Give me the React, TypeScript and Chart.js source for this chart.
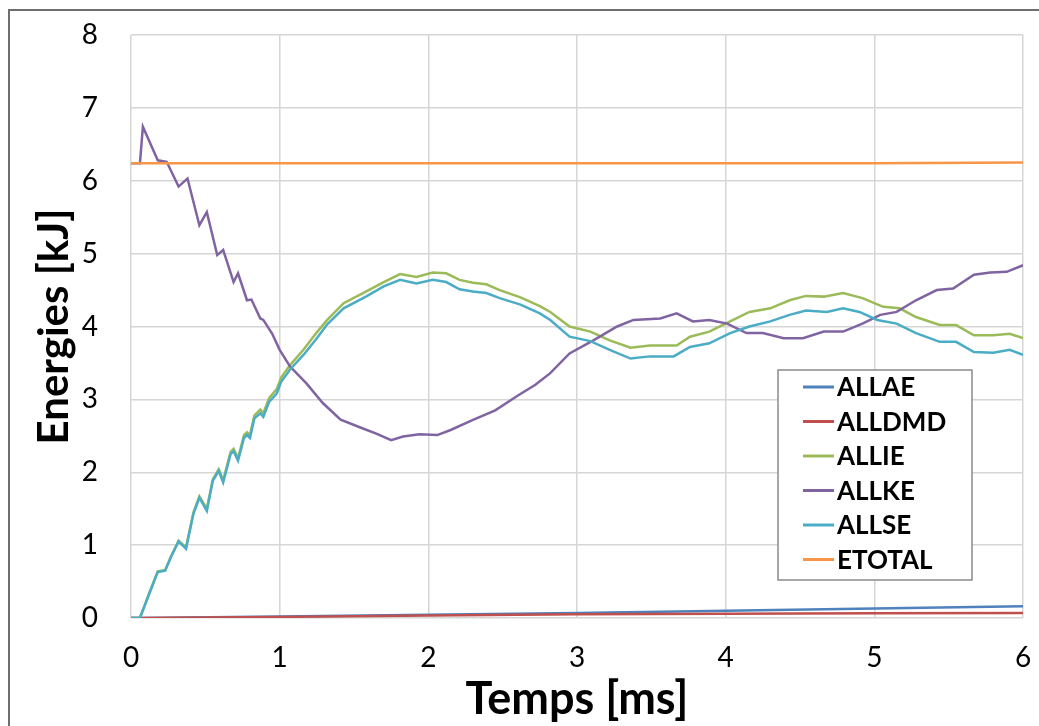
import React, { useEffect, useRef } from "react";
import { Chart, registerables } from "chart.js";

Chart.register(...registerables);

const FONT = "Lato, 'Open Sans', sans-serif";

const seriesNames = ["ALLAE", "ALLDMD", "ALLIE", "ALLKE", "ALLSE", "ETOTAL"];
const seriesColors = ["#4F81BD", "#C0504D", "#9BBB59", "#8064A2", "#4BACC6", "#F79646"];

const xTickValues = [0, 1, 2, 3, 4, 5, 6];
const yTickValues = [0, 1, 2, 3, 4, 5, 6, 7, 8];

const aeT = [0, 0.06, 1, 2, 3, 4, 5, 6];
const aeV = [0, 0, 0.02, 0.045, 0.07, 0.1, 0.13, 0.16];

const dmdT = [0, 0.06, 1, 2, 3, 4, 5, 6];
const dmdV = [0, 0, 0.015, 0.035, 0.05, 0.06, 0.065, 0.07];

const ieT = [0, 0.06, 0.13, 0.18, 0.23, 0.27, 0.32, 0.37, 0.42, 0.46, 0.51, 0.55, 0.59, 0.62, 0.67, 0.69, 0.72, 0.76, 0.78, 0.8, 0.83, 0.87, 0.89, 0.93, 0.98, 1.01, 1.07, 1.16, 1.25, 1.32, 1.43, 1.58, 1.7, 1.81, 1.92, 2.03, 2.12, 2.21, 2.3, 2.39, 2.48, 2.62, 2.75, 2.82, 2.95, 3.09, 3.22, 3.36, 3.49, 3.67, 3.76, 3.89, 4.03, 4.16, 4.3, 4.43, 4.54, 4.66, 4.79, 4.92, 5.06, 5.17, 5.28, 5.44, 5.55, 5.67, 5.8, 5.91, 6.0];
const ieV = [0, 0, 0.38, 0.64, 0.66, 0.85, 1.06, 0.97, 1.45, 1.67, 1.5, 1.9, 2.04, 1.89, 2.28, 2.32, 2.19, 2.51, 2.55, 2.51, 2.78, 2.86, 2.81, 3.02, 3.14, 3.3, 3.47, 3.68, 3.92, 4.09, 4.32, 4.48, 4.61, 4.72, 4.68, 4.74, 4.73, 4.64, 4.6, 4.58, 4.5, 4.4, 4.28, 4.2, 4.0, 3.93, 3.81, 3.71, 3.74, 3.74, 3.86, 3.93, 4.07, 4.2, 4.25, 4.36, 4.42, 4.41, 4.46, 4.39, 4.27, 4.25, 4.13, 4.02, 4.02, 3.88, 3.88, 3.9, 3.84];

const keT = [0, 0.06, 0.08, 0.18, 0.24, 0.32, 0.38, 0.46, 0.51, 0.58, 0.62, 0.69, 0.72, 0.78, 0.81, 0.87, 0.89, 0.95, 1.0, 1.07, 1.18, 1.29, 1.41, 1.56, 1.65, 1.75, 1.83, 1.94, 2.06, 2.15, 2.3, 2.45, 2.6, 2.72, 2.82, 2.95, 3.11, 3.27, 3.38, 3.56, 3.67, 3.78, 3.89, 4.01, 4.14, 4.25, 4.39, 4.52, 4.66, 4.79, 4.92, 5.04, 5.15, 5.28, 5.42, 5.53, 5.67, 5.78, 5.89, 6.0];
const keV = [6.24, 6.24, 6.74, 6.28, 6.26, 5.92, 6.03, 5.39, 5.57, 4.98, 5.05, 4.61, 4.73, 4.36, 4.37, 4.11, 4.09, 3.9, 3.68, 3.45, 3.22, 2.95, 2.72, 2.6, 2.53, 2.44, 2.49, 2.52, 2.51, 2.58, 2.72, 2.85, 3.05, 3.2, 3.36, 3.63, 3.81, 4.0, 4.09, 4.11, 4.18, 4.07, 4.09, 4.04, 3.91, 3.91, 3.84, 3.84, 3.93, 3.93, 4.04, 4.16, 4.2, 4.36, 4.5, 4.52, 4.71, 4.74, 4.75, 4.84];

const seT = [0, 0.06, 0.13, 0.18, 0.23, 0.27, 0.32, 0.37, 0.42, 0.46, 0.51, 0.55, 0.59, 0.62, 0.67, 0.69, 0.72, 0.76, 0.78, 0.8, 0.83, 0.87, 0.89, 0.93, 0.98, 1.01, 1.07, 1.16, 1.25, 1.32, 1.43, 1.58, 1.7, 1.81, 1.92, 2.03, 2.12, 2.21, 2.3, 2.39, 2.48, 2.62, 2.75, 2.82, 2.95, 3.09, 3.22, 3.36, 3.49, 3.65, 3.76, 3.89, 4.03, 4.16, 4.3, 4.43, 4.54, 4.68, 4.79, 4.9, 5.02, 5.15, 5.28, 5.44, 5.55, 5.67, 5.8, 5.91, 6.0];
const seV = [0, 0, 0.37, 0.63, 0.65, 0.84, 1.05, 0.95, 1.43, 1.65, 1.47, 1.88, 2.02, 1.86, 2.25, 2.29, 2.16, 2.47, 2.51, 2.47, 2.74, 2.81, 2.76, 2.97, 3.08, 3.24, 3.41, 3.61, 3.84, 4.03, 4.25, 4.41, 4.55, 4.64, 4.59, 4.64, 4.61, 4.51, 4.48, 4.46, 4.39, 4.3, 4.18, 4.09, 3.86, 3.8, 3.68, 3.56, 3.59, 3.59, 3.72, 3.77, 3.91, 4.0, 4.07, 4.16, 4.22, 4.2, 4.25, 4.2, 4.09, 4.04, 3.91, 3.79, 3.79, 3.65, 3.64, 3.68, 3.61];

const etT = [0, 1, 2, 3, 4, 5, 6];
const etV = [6.24, 6.24, 6.24, 6.24, 6.24, 6.24, 6.25];

const seriesT = [aeT, dmdT, ieT, keT, seT, etT];
const seriesV = [aeV, dmdV, ieV, keV, seV, etV];

const legendPlugin = {
  id: "boxLegend",
  afterDraw(chart: any) {
    const ctx = chart.ctx;
    const x0 = 778, y0 = 370, w = 194, h = 210;
    ctx.save();
    ctx.fillStyle = "#ffffff";
    ctx.fillRect(x0, y0, w, h);
    ctx.strokeStyle = "#8a8a8a";
    ctx.lineWidth = 1.5;
    ctx.strokeRect(x0, y0, w, h);
    ctx.font = `bold 26px ${FONT}`;
    ctx.textBaseline = "middle";
    ctx.textAlign = "left";
    chart.data.datasets.forEach((ds: any, i: number) => {
      const y = 387 + i * 34.5;
      ctx.strokeStyle = ds.borderColor;
      ctx.lineWidth = 3;
      ctx.beginPath();
      ctx.moveTo(803, y);
      ctx.lineTo(834, y);
      ctx.stroke();
      ctx.fillStyle = "#000";
      ctx.fillText(ds.label, 837, y + 1);
    });
    ctx.restore();
  },
};

export default function App() {
  const ref = useRef<HTMLCanvasElement | null>(null);
  useEffect(() => {
    if (!ref.current) return;
    const datasets = seriesNames.map((name, i) => ({
      label: name,
      data: seriesT[i].map((t, j) => ({ x: t, y: seriesV[i][j] })),
      borderColor: seriesColors[i],
      backgroundColor: seriesColors[i],
      borderWidth: 2.5,
      pointRadius: 0,
      tension: 0,
      fill: false,
      order: seriesNames.length - i,
    }));
    const chart = new Chart(ref.current, {
      type: "line",
      data: { datasets },
      options: {
        responsive: false,
        animation: false,
        layout: { padding: { left: 0, right: 16, top: 35, bottom: 0 } },
        plugins: { legend: { display: false }, tooltip: { enabled: false } },
        scales: {
          x: {
            type: "linear",
            min: 0,
            max: 6,
            afterBuildTicks: (s: any) => {
              s.ticks = xTickValues.map((v) => ({ value: v }));
            },
            ticks: { font: { family: FONT, size: 28 }, color: "#000", padding: 23, maxRotation: 0 },
            grid: { color: "#d6d6d6", lineWidth: 1.5, drawTicks: false },
            border: { display: false },
            title: {
              display: true,
              text: "Temps [ms]",
              color: "#000",
              font: { family: FONT, size: 45, weight: "bold" },
              padding: { top: 0, bottom: 0 },
            },
            afterFit: (s: any) => {
              s.height = 108;
              s.paddingLeft = 0;
              s.paddingRight = 0;
            },
          },
          y: {
            type: "linear",
            min: 0,
            max: 8,
            afterBuildTicks: (s: any) => {
              s.ticks = yTickValues.map((v) => ({ value: v }));
            },
            ticks: { font: { family: FONT, size: 28 }, color: "#000", padding: 33 },
            grid: { color: "#d6d6d6", lineWidth: 1.5, drawTicks: false },
            border: { display: false },
            title: {
              display: true,
              text: "Energies [kJ]",
              color: "#000",
              font: { family: FONT, size: 42, weight: "bold" },
              padding: { top: 29, bottom: 0 },
            },
            afterFit: (s: any) => {
              s.width = 131;
              s.paddingTop = 0;
              s.paddingBottom = 0;
            },
          },
        },
      },
      plugins: [legendPlugin],
    });
    return () => chart.destroy();
  }, []);

  return (
    <div style={{ position: "fixed", left: 0, top: 0, width: 1039, height: 726, overflow: "hidden", background: "#fff" }}>
      <div
        style={{
          position: "absolute",
          left: 8,
          top: 9,
          width: 1200,
          height: 900,
          borderTop: "2px solid #6e6e6e",
          borderLeft: "2px solid #6e6e6e",
        }}
      />
      <canvas ref={ref} width={1039} height={726} style={{ position: "absolute", left: 0, top: 0 }} />
    </div>
  );
}
